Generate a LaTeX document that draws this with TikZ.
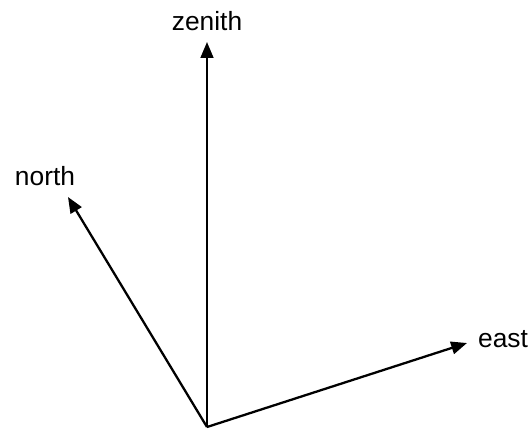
\documentclass[tikz,border=0pt]{standalone}
\usepackage{fontspec}
\setmainfont{Liberation Sans}
\usetikzlibrary{arrows.meta}
\begin{document}
\begin{tikzpicture}[>={Triangle[length=9pt,width=7.2pt]}, line width=1.3pt,
    axislabel/.style={anchor=base, font=\fontsize{15}{18}\selectfont}]
    \useasboundingbox (-4.14,-0.02) rectangle (6.46,8.54);

    \coordinate (o) at (0,0);
    \coordinate (zt) at (0,7.7);
    \coordinate (nt) at (-2.78,4.6);
    \coordinate (et) at (5.2,1.68);

    \draw[->] (o) -- (zt);
    \draw[->] (o) -- (nt);
    \draw[->] (o) -- (et);

    \node[axislabel] (zenith) at (0,7.94) {zenith};
    \node[axislabel] (north) at (-3.24,4.84) {north};
    \node[axislabel] (east) at (5.92,1.6) {east};
\end{tikzpicture}
\end{document}
